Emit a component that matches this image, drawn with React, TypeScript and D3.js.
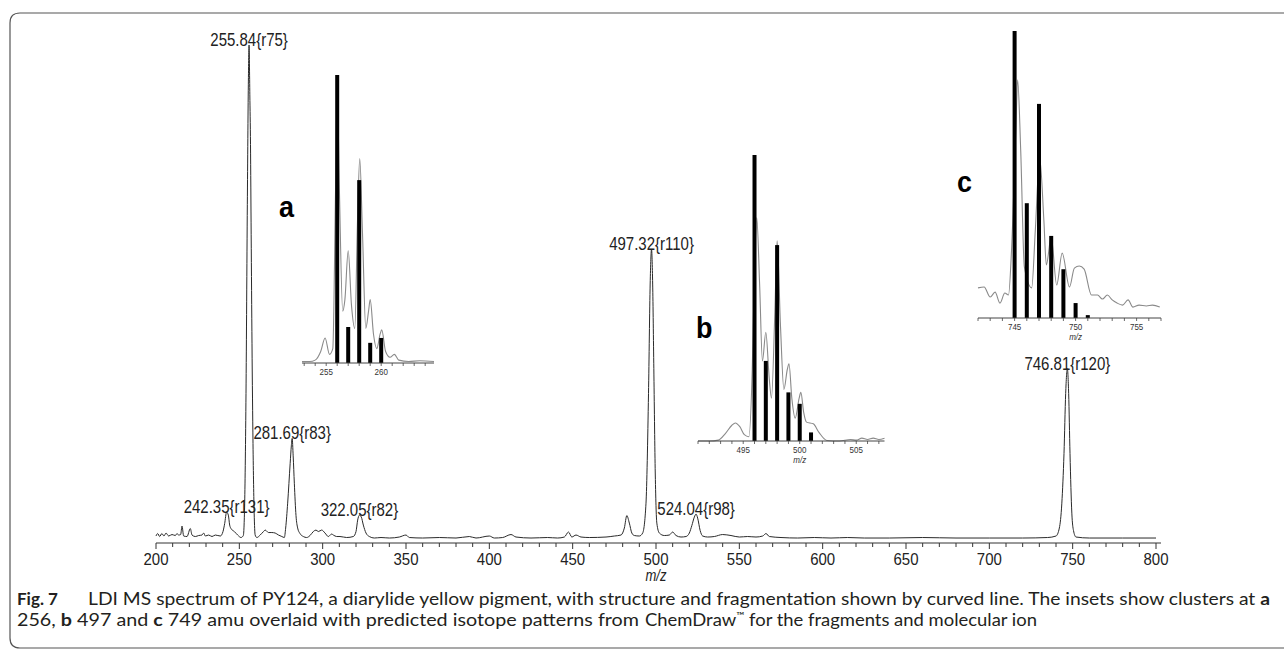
import React from 'react';
import * as d3 from 'd3';

// ---------- DATA ----------
const mainTickValues = [200, 250, 300, 350, 400, 450, 500, 550, 600, 650, 700, 750, 800];

// main LDI spectrum: [m/z, relative intensity %]
const mainSpectrum: [number, number][] = [
  [200.0, 1.4], [201.0, 1.9], [202.2, 1.3], [203.5, 1.9], [204.8, 1.4], [206.0, 2.0], [207.6, 1.4],
  [209.6, 1.7], [211.6, 1.5], [212.6, 1.9], [213.6, 1.6], [214.8, 1.7], [215.6, 3.4], [216.6, 1.4],
  [218.6, 1.3], [220.6, 2.9], [221.6, 1.6], [223.6, 1.3], [225.6, 1.5], [227.6, 1.6], [228.6, 2.0],
  [229.6, 1.4], [231.6, 1.6], [233.6, 1.3], [235.6, 1.6], [238.6, 1.4], [240.2, 2.3], [241.2, 3.9],
  [242.35, 6.2], [243.4, 5.6], [244.2, 3.6], [245.0, 2.9], [247.0, 2.3], [249.0, 1.6], [251.0, 1.1],
  [252.4, 1.5], [253.2, 8], [254.0, 30], [254.8, 68], [255.4, 92], [255.84, 100], [256.3, 90],
  [256.7, 80], [257.1, 62], [257.6, 40], [258.2, 20], [258.9, 6], [259.5, 1.6], [260.5, 1.1],
  [262.5, 1.6], [264.5, 2.3], [265.5, 2.6], [267.5, 2.1], [269.5, 2.1], [271.5, 2.0], [273.5, 1.6],
  [275.5, 1.3], [277.0, 1.1], [277.8, 3], [279.0, 8], [280.5, 16], [281.2, 19.5], [281.69, 21],
  [282.3, 17.5], [283.0, 12], [284.0, 5.5], [285.0, 3], [286.4, 1.9], [288.4, 1.3], [290.4, 1.1],
  [292.4, 1.5], [294.4, 2.3], [296.0, 2.6], [297.4, 2.3], [299.4, 2.6], [301.4, 2.0], [303.4, 1.3],
  [305.4, 1.8], [306.4, 1.6], [308.4, 1.3], [310.4, 1.3], [314.4, 1.1], [318.4, 1.3], [320.0, 2.3],
  [321.0, 4.6], [322.05, 5.6], [323.2, 5.2], [324.4, 3.6], [326.0, 2.0], [328.0, 1.3], [331, 1.0],
  [335, 1.1], [340, 1.0], [346, 1.2], [350, 1.6], [352, 1.1], [360, 1.0], [370, 1.1], [380, 1.0],
  [388, 1.3], [392, 1.0], [400, 1.4], [403, 1.0], [408, 1.1], [413, 1.7], [416, 1.2], [425, 1.0],
  [435, 1.1], [441, 1.0], [445, 1.2], [447.5, 2.2], [449.5, 1.2], [452, 1.6], [455, 1.2], [460, 1.1],
  [470, 1.2], [475, 1.4], [479, 1.6], [481, 3], [482.5, 5.5], [484, 4], [485.5, 2], [487, 1.5],
  [490, 1.4], [492, 2], [494, 8], [495.5, 30], [496.5, 52], [497.32, 59], [498.0, 52], [498.7, 35],
  [499.5, 15], [500.5, 4], [502, 2], [505, 1.5], [508, 1.6], [510, 2.2], [512, 1.5], [515, 1.2],
  [518, 1.3], [520, 2], [521.5, 3.5], [523, 5.2], [524.04, 5.8], [525, 5], [526.5, 2.5], [528, 1.4],
  [531, 1.2], [535, 1.3], [540, 1.7], [545, 1.5], [550, 1.2], [555, 1.3], [560, 1.2], [564, 1.4],
  [566, 1.9], [568, 1.3], [575, 1.1], [585, 1.0], [595, 1.1], [605, 1.0], [615, 1.1], [625, 1.0],
  [640, 1.0], [660, 1.1], [680, 1.0], [700, 1.0], [720, 1.0], [735, 1.1], [740, 1.4], [742, 3],
  [743.5, 8], [744.8, 18], [745.8, 30], [746.81, 35], [747.6, 30], [748.4, 18], [749.5, 6],
  [750.5, 2.5], [752, 1.2], [760, 1.0], [780, 1.0], [800, 1.0],
];

const peakLabelMz = [255.84, 242.35, 281.69, 322.05, 497.32, 524.04, 746.81];
const peakLabelText = ['255.84{r75}', '242.35{r131}', '281.69{r83}', '322.05{r82}', '497.32{r110}', '524.04{r98}', '746.81{r120}'];
const peakLabelHeight = [100, 6.2, 21, 5.6, 59, 5.8, 35];

// inset a (cluster at 256)
const insetATicks = [255, 260];
const insetABars: [number, number][] = [[256, 100], [257, 12.5], [258, 63.5], [259, 7], [260, 8.7]];
const insetASpectrum: [number, number][] = [
  [252.8, 0.5], [253.5, 0.5], [254.0, 1], [254.5, 4], [254.9, 8.7], [255.3, 3], [255.6, 5],
  [255.85, 60], [256.0, 95], [256.2, 60], [256.5, 18], [256.7, 22], [257.0, 39], [257.3, 20],
  [257.6, 12], [257.85, 50], [258.05, 71], [258.3, 45], [258.6, 12], [258.85, 18], [259.0, 22],
  [259.3, 10], [259.6, 5], [259.9, 10], [260.05, 11.5], [260.4, 4], [260.8, 2], [261.2, 3],
  [261.6, 1], [262.5, 0.5], [263.5, 0.8], [264.8, 0.5],
];

// inset b (cluster at 497)
const insetBTicks = [495, 500, 505];
const insetBBars: [number, number][] = [[496, 100], [497, 28], [498, 68.5], [499, 17], [500, 13], [501, 3]];
const insetBSpectrum: [number, number][] = [
  [491.0, 0], [492.0, 0], [492.8, 0.3], [493.4, 2.5], [494.0, 5.5], [494.3, 6.3], [494.7, 5],
  [495.1, 2.2], [495.5, 1.5], [495.8, 25], [496.0, 60], [496.2, 78], [496.45, 55], [496.7, 28],
  [497.0, 38], [497.3, 22], [497.5, 15], [497.8, 45], [498.0, 70], [498.3, 40], [498.6, 18],
  [498.9, 25], [499.05, 27], [499.3, 15], [499.6, 8], [499.95, 15], [500.1, 17], [500.35, 10],
  [500.6, 6.6], [501.2, 6], [501.7, 3], [502.4, 0.2], [503.5, 0], [504.5, 0.5], [505.0, 0.3],
  [505.5, 1], [506.0, 0.5], [506.5, 1], [507.0, 0.5], [507.5, 1],
];

// inset c (cluster at 749)
const insetCTicks = [745, 750, 755];
const insetCBars: [number, number][] = [[745, 100], [746, 40], [747, 74.6], [748, 28.6], [749, 17], [750, 5.2], [751, 1]];
const insetCSpectrum: [number, number][] = [
  [742.0, 10.5], [742.5, 10.8], [743.0, 7.3], [743.4, 9.0], [743.8, 5.2], [744.2, 8.7], [744.5, 8.0],
  [744.75, 23.7], [745.1, 65.5], [745.25, 83], [745.5, 58.5], [745.8, 17.8], [746.4, 10.5],
  [746.7, 30.7], [747.05, 56], [747.4, 34], [747.6, 18.5], [748.0, 28.2], [748.45, 11.5],
  [748.9, 22.6], [749.5, 10.8], [749.9, 17.4], [750.3, 18.1], [750.7, 17], [751.3, 8], [751.8, 8],
  [752.2, 6.6], [752.6, 8], [753.0, 6.3], [753.4, 5.2], [753.85, 4.5], [754.3, 6.3], [754.7, 3.8],
  [755.2, 4.5], [755.8, 4.2], [756.3, 4.5], [756.9, 3.8],
];

const captionLabel = 'Fig. 7';
const captionLine1 = 'LDI MS spectrum of PY124, a diarylide yellow pigment, with structure and fragmentation shown by curved line. The insets show clusters at ';

// ---------- COMPONENTS ----------
const FONT = '"Liberation Sans", Arial, sans-serif';
const CAPFONT = 'Lato, "Open Sans", sans-serif';
const INK = '#222';

type InsetProps = {
  domain: [number, number];
  range: [number, number];
  axisY: number;
  topY: number;
  bars: [number, number][];
  spectrum: [number, number][];
  ticks: number[];
  mzAt: number | null;
  letter: string;
  letterX: number;
  letterY: number;
};

function Inset(p: InsetProps) {
  const x = d3.scaleLinear().domain(p.domain).range(p.range);
  const y = d3.scaleLinear().domain([0, 100]).range([p.axisY, p.topY]);
  const line = d3.line<[number, number]>().x(d => x(d[0])).y(d => y(d[1])).curve(d3.curveMonotoneX);
  const minor = d3.range(Math.ceil(p.domain[0]), Math.floor(p.domain[1]) + 1);
  return (
    <g>
      <path d={line(p.spectrum) || ''} fill="none" stroke="#8a8a8a" strokeWidth={1.1} />
      {p.bars.map((b, i) => (
        <rect key={i} x={x(b[0]) - 2} y={y(b[1])} width={4} height={p.axisY - y(b[1])} fill="#000" />
      ))}
      <line x1={p.range[0]} x2={p.range[1]} y1={p.axisY} y2={p.axisY} stroke="#444" strokeWidth={1} />
      {minor.map(m => (
        <line key={m} x1={x(m)} x2={x(m)} y1={p.axisY} y2={p.axisY + 3} stroke="#444" strokeWidth={0.8} />
      ))}
      {p.ticks.map(t => (
        <text key={t} transform={`translate(${x(t)},${p.axisY + 12}) scale(1,1.2)`} textAnchor="middle"
          fontFamily={FONT} fontSize={8} fill="#333">{t}</text>
      ))}
      {p.mzAt !== null && (
        <text transform={`translate(${x(p.mzAt)},${p.axisY + 22}) scale(1,1.2)`}
          textAnchor="middle" fontFamily={FONT} fontStyle="italic" fontSize={8} fill="#333">m/z</text>
      )}
      <text transform={`translate(${p.letterX},${p.letterY}) scale(1,1.12)`} fontFamily={FONT}
        fontWeight="bold" fontSize={27} fill="#000">{p.letter}</text>
    </g>
  );
}

export default function App() {
  const x = d3.scaleLinear().domain([200, 800]).range([156, 1156]);
  const y = d3.scaleLinear().domain([0, 100]).range([543, 45]);
  const line = d3.line<[number, number]>().x(d => x(d[0])).y(d => y(d[1])).curve(d3.curveMonotoneX);
  const minorTicks = d3.range(200, 801, 10);

  return (
    <svg width={1284} height={649} viewBox="0 0 1284 649"
      style={{ position: 'absolute', left: 0, top: 0, background: '#fff' }}>
      <rect x={0} y={0} width={1284} height={649} fill="#fff" />
      {/* frame */}
      <path d="M 1290 13 H 20 Q 10 13 10 23 V 638 Q 10 648 20 648 H 1290" fill="none" stroke="#555" strokeWidth={1.2} />

      {/* main spectrum */}
      <path d={line(mainSpectrum) || ''} fill="none" stroke="#2a2a2a" strokeWidth={1} />

      {/* main axis */}
      <line x1={x(200)} x2={x(803)} y1={543} y2={543} stroke="#333" strokeWidth={1} />
      {minorTicks.map(t => (
        <line key={t} x1={x(t)} x2={x(t)} y1={543} y2={t % 50 === 0 ? 549 : 547} stroke="#333" strokeWidth={1} />
      ))}
      {mainTickValues.map(t => (
        <text key={t} transform={`translate(${x(t)},${565}) scale(1,1.15)`} textAnchor="middle"
          fontFamily={FONT} fontSize={15} fill={INK}>{t}</text>
      ))}
      <text transform={`translate(${x(500)},${581}) scale(1,1.2)`} textAnchor="middle" fontFamily={FONT}
        fontStyle="italic" fontSize={13} fill={INK}>m/z</text>

      {/* peak labels */}
      {peakLabelMz.map((m, i) => (
        <text key={m} transform={`translate(${x(m)},${y(peakLabelHeight[i]) + 1}) scale(1,1.25)`}
          textAnchor="middle" fontFamily={FONT} fontSize={15} fill={INK}>{peakLabelText[i]}</text>
      ))}

      {/* insets */}
      <Inset domain={[252.8, 264.8]} range={[302, 434]} axisY={363} topY={75} bars={insetABars}
        spectrum={insetASpectrum} ticks={insetATicks} mzAt={null} letter="a" letterX={279} letterY={217} />
      <Inset domain={[491, 507.5]} range={[698, 884.5]} axisY={441} topY={155} bars={insetBBars}
        spectrum={insetBSpectrum} ticks={insetBTicks} mzAt={500} letter="b" letterX={696} letterY={338} />
      <Inset domain={[742, 757]} range={[978, 1161]} axisY={318} topY={31} bars={insetCBars}
        spectrum={insetCSpectrum} ticks={insetCTicks} mzAt={750} letter="c" letterX={957} letterY={192} />

      {/* caption */}
      <text x={17} y={605} fontFamily={CAPFONT} fontSize={17} fontWeight="bold" fill="#231f20">{captionLabel}</text>
      <text x={88} y={605} fontFamily={CAPFONT} fontSize={17} fill="#231f20"
        textLength={1182} lengthAdjust="spacingAndGlyphs">
        <tspan>{captionLine1}</tspan>
        <tspan fontWeight="bold">a</tspan>
      </text>
      <text x={17} y={626} fontFamily={CAPFONT} fontSize={17} fill="#231f20"
        textLength={622} lengthAdjust="spacingAndGlyphs">
        <tspan>256, </tspan>
        <tspan fontWeight="bold">b</tspan>
        <tspan> 497 and </tspan>
        <tspan fontWeight="bold">c</tspan>
        <tspan> 749 amu overlaid with predicted isotope patterns from</tspan>
      </text>
      <text x={645} y={626} fontFamily={CAPFONT} fontSize={17} fill="#231f20"
        textLength={392} lengthAdjust="spacingAndGlyphs">
        <tspan>ChemDraw</tspan>
        <tspan fontSize={10} dy={-7}>™</tspan>
        <tspan dy={7}> for the fragments and molecular ion</tspan>
      </text>
    </svg>
  );
}
